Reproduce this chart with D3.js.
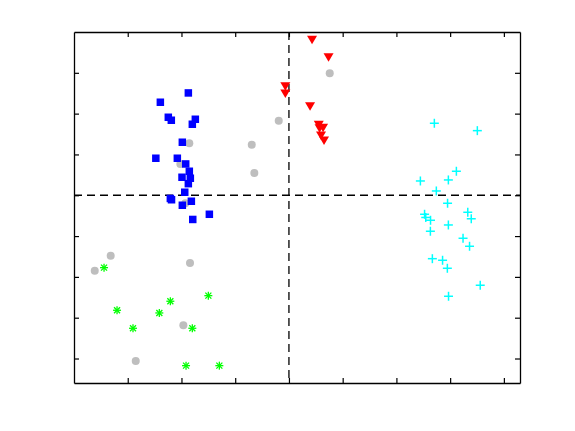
<!DOCTYPE html>
<html><head><meta charset="utf-8">
<script src="https://cdn.jsdelivr.net/npm/d3@7"></script>
<style>html,body{margin:0;padding:0;background:#fff;}</style>
</head><body>
<script>
const xTicks = [-3,-2,-1,0,1,2,3,4];
const yTicks = [-4,-3,-2,-1,0,1,2,3];

const blueX = [-1.872,-2.393,-2.245,-2.189,-1.742,-1.798,-1.984,-2.477,-2.077,-1.921,-1.854,-1.990,-1.835,-1.872,-1.939,-2.207,-2.185,-1.816,-1.984,-1.481,-1.790];
const blueY = [2.507,2.279,1.911,1.838,1.862,1.740,1.299,0.907,0.907,0.767,0.588,0.441,0.417,0.284,0.074,-0.078,-0.110,-0.147,-0.245,-0.466,-0.593];

const grayX = [-1.854,-2.021,-0.692,-0.644,-0.190,-1.928,0.759,-3.317,-3.614,-1.841,-1.965,-2.851];
const grayY = [1.274,0.767,1.240,0.546,1.828,-0.196,2.989,-1.480,-1.848,-1.659,-3.185,-4.060];

const greenX = [-3.441,-3.199,-2.902,-2.412,-2.207,-1.500,-1.798,-1.915,-1.295];
const greenY = [-1.774,-2.818,-3.259,-2.884,-2.597,-2.460,-3.259,-4.175,-4.175];

const redX = [0.430,0.737,-0.067,-0.067,0.393,0.555,0.635,0.570,0.597,0.653];
const redY = [3.818,3.389,2.678,2.499,2.188,1.735,1.661,1.649,1.470,1.348];

const cyanX = [2.706,3.506,3.116,2.446,2.967,2.743,2.952,2.524,2.546,2.635,3.328,3.393,2.967,2.632,3.240,3.361,2.669,2.859,2.948,3.560,2.970];
const cyanY = [1.764,1.583,0.588,0.350,0.375,0.105,-0.196,-0.466,-0.544,-0.613,-0.417,-0.576,-0.728,-0.882,-1.054,-1.250,-1.554,-1.593,-1.789,-2.205,-2.475];

const W = 575, H = 431;
const m = {left:74, right:55, top:32, bottom:48};
const svg = d3.select("body").append("svg").attr("width", W).attr("height", H);
const x = d3.scaleLinear().domain([-4, 4.3]).range([m.left, W - m.right]);
const y = d3.scaleLinear().domain([-4.6, 4]).range([H - m.bottom, m.top]);

const zip = (a, b) => a.map((v, i) => [v, b[i]]);

// dashed zero lines
svg.append("line").attr("x1", x(0)).attr("x2", x(0)).attr("y1", y(4)).attr("y2", y(-4.6))
  .attr("stroke", "#000").attr("stroke-width", 1.3).attr("stroke-dasharray", "8,5");
svg.append("line").attr("x1", x(-4)).attr("x2", x(4.3)).attr("y1", y(0)).attr("y2", y(0))
  .attr("stroke", "#000").attr("stroke-width", 1.3).attr("stroke-dasharray", "8,5");

// axes with inward ticks, no labels
const tl = 5;
function styleAxis(g){ g.selectAll("path").attr("stroke","#000").attr("stroke-width",1.3); g.selectAll("line").attr("stroke","#000").attr("stroke-width",1.2); g.selectAll("text").remove(); }
svg.append("g").attr("transform", `translate(0,${y(-4.6)})`).call(d3.axisBottom(x).tickValues(xTicks).tickSize(-tl).tickSizeOuter(0)).call(styleAxis);
svg.append("g").attr("transform", `translate(0,${y(4)})`).call(d3.axisTop(x).tickValues(xTicks).tickSize(-tl).tickSizeOuter(0)).call(styleAxis);
svg.append("g").attr("transform", `translate(${x(-4)},0)`).call(d3.axisLeft(y).tickValues(yTicks).tickSize(-tl).tickSizeOuter(0)).call(styleAxis);
svg.append("g").attr("transform", `translate(${x(4.3)},0)`).call(d3.axisRight(y).tickValues(yTicks).tickSize(-tl).tickSizeOuter(0)).call(styleAxis);

// gray circles
svg.append("g").selectAll("circle").data(zip(grayX, grayY)).join("circle")
  .attr("cx", d => x(d[0])).attr("cy", d => y(d[1])).attr("r", 4).attr("fill", "#bebebe");

// blue squares
const s = 7.5;
svg.append("g").selectAll("rect").data(zip(blueX, blueY)).join("rect")
  .attr("x", d => x(d[0]) - s/2).attr("y", d => y(d[1]) - s/2).attr("width", s).attr("height", s).attr("fill", "#0000ff");

// red down triangles
svg.append("g").selectAll("path").data(zip(redX, redY)).join("path")
  .attr("d", d => { const cx = x(d[0]), cy = y(d[1]); return `M${cx-5},${cy-3.8}L${cx+5},${cy-3.8}L${cx},${cy+4.8}Z`; })
  .attr("fill", "#ff0000");

// green asterisks
const gs = svg.append("g").selectAll("g").data(zip(greenX, greenY)).join("g")
  .attr("transform", d => `translate(${x(d[0])},${y(d[1])})`);
[[-4,0,4,0],[0,-4,0,4],[-3,-3,3,3],[-3,3,3,-3]].forEach(l => {
  gs.append("line").attr("x1", l[0]).attr("y1", l[1]).attr("x2", l[2]).attr("y2", l[3])
    .attr("stroke", "#00ff00").attr("stroke-width", 1.3);
});

// cyan plus
const cs = svg.append("g").selectAll("g").data(zip(cyanX, cyanY)).join("g")
  .attr("transform", d => `translate(${x(d[0])},${y(d[1])})`);
cs.append("line").attr("x1", -4.5).attr("x2", 4.5).attr("y1", 0).attr("y2", 0).attr("stroke", "#00ffff").attr("stroke-width", 1.5);
cs.append("line").attr("x1", 0).attr("x2", 0).attr("y1", -4.5).attr("y2", 4.5).attr("stroke", "#00ffff").attr("stroke-width", 1.5);
</script>
</body></html>
